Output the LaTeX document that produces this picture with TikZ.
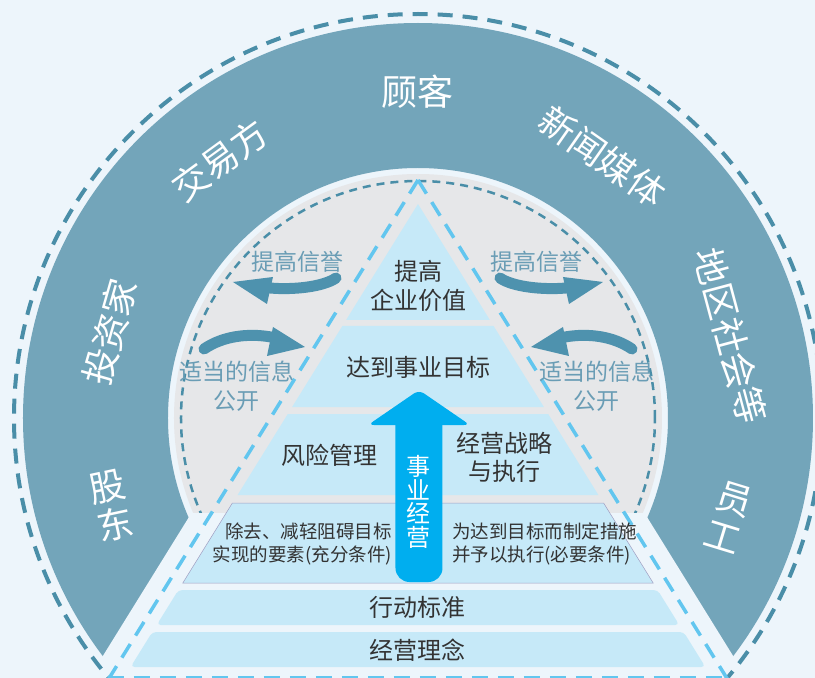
\documentclass[tikz,border=0pt]{standalone}
\usepackage{fontspec}
\setmainfont{Noto Sans CJK SC}
\usepackage{tikz}

\definecolor{bgblue}{HTML}{EDF5FB}
\definecolor{ringblue}{HTML}{73A5BA}
\definecolor{discgray}{HTML}{E6E7E9}
\definecolor{dashblue}{HTML}{4A8EA8}
\definecolor{cyandash}{HTML}{62C6EF}
\definecolor{layerblue}{HTML}{C6E9F8}
\definecolor{arrowblue}{HTML}{00AEEF}
\definecolor{swooshblue}{HTML}{4E92AE}
\definecolor{mutedblue}{HTML}{6A9DB5}
\definecolor{darktext}{HTML}{333333}

\begin{document}
\begin{tikzpicture}[
			x=1pt, y=1pt,
			ringtext/.style={text=white, inner sep=0pt, align=center, font=\fontsize{36}{39}\selectfont},
			layer/.style={fill=layerblue},
			layertext/.style={text=darktext, inner sep=0pt, align=center, font=\fontsize{24}{28.5}\selectfont},
			smalltext/.style={text=darktext, inner sep=0pt, font=\fontsize{18.5}{23}\selectfont},
			graytext/.style={text=mutedblue, inner sep=0pt, align=center, font=\fontsize{23}{29}\selectfont},
			swoosh/.style={draw=swooshblue, line width=11pt, line cap=round},
			swooshhead/.style={fill=swooshblue},
			darkdash/.style={draw=dashblue, line width=4pt, dash pattern=on 15pt off 10pt},
			pyrdash/.style={draw=cyandash, line width=3.5pt, dash pattern=on 16pt off 10pt}
			]
			
			% Background
			\useasboundingbox (-418,-260) rectangle (397,418);
			\fill[bgblue] (-418,-260) rectangle (397,418);
			
			% Outer ring of stakeholders
			\fill[ringblue, even odd rule] (0,0) circle[radius=395] (0,0) circle[radius=250];
			
			% Grey disc, cut off at the lower layers
			\begin{scope}
				\clip (-260,-95) rectangle (260,260);
				\fill[discgray] (0,0) circle[radius=244];
				\draw[dashblue, line width=2.5pt, dash pattern=on 8pt off 6pt] (0,0) circle[radius=237];
			\end{scope}
			
			% Light band along the pyramid
			\fill[bgblue] (-226.5,-95) -- (-335,-270) -- (335,-270) -- (226.5,-95) -- cycle;
			
			% Outer dashed circle
			\draw[darkdash] (0,0) circle[radius=404];
			
			% Pyramid outline
			\coordinate (apex) at (0,238);
			\coordinate (baseL) at (-310,-262);
			\coordinate (baseR) at (310,-262);
			\coordinate (floorL) at (-310,-260);
			\coordinate (floorR) at (310,-260);
			\draw[pyrdash] (apex) -- (baseL);
			\draw[pyrdash] (apex) -- (baseR);
			\draw[pyrdash] (floorL) -- (floorR);
			
			% Layers
			\fill[layer] (0,214) -- (71.9,98) -- (-71.9,98) -- cycle;
			\fill[layer] (-75.6,92) -- (75.6,92) -- (125.9,11) -- (-125.9,11) -- cycle;
			\fill[layer] (-130.2,4) -- (130.2,4) -- (180.4,-77) -- (-180.4,-77) -- cycle;
			\filldraw[layer, draw=black!15!layerblue!80!violet, line width=0.5pt] (-185.6,-85) -- (185.6,-85) -- (235.2,-165) -- (-235.2,-165) -- cycle;
			\fill[layer, rounded corners=4pt] (-239.6,-172) -- (239.6,-172) -- (261.3,-207) -- (-261.3,-207) -- cycle;
			\fill[layer, rounded corners=4pt] (-265.7,-214) -- (265.7,-214) -- (287.4,-249) -- (-287.4,-249) -- cycle;
			
			% Business arrow
			\fill[arrowblue, rounded corners=14pt] (-22.5,-164) rectangle (24.5,10);
			\fill[arrowblue, rounded corners=6pt] (-50,-7) -- (1,28) -- (52,-7) -- cycle;
			
			% Swoosh arrows, left
			\draw[swoosh] (-82,140) .. controls (-95,131) and (-125,128) .. (-148,130);
			\fill[swooshhead] (-185,136) -- (-145,141) -- (-151,114) -- cycle;
			\draw[swoosh] (-214,69) .. controls (-195,82) and (-170,85) .. (-147,81);
			\fill[swooshhead] (-113,71) -- (-145,91) -- (-151,62) -- cycle;
			
			% Swoosh arrows, right
			\draw[swoosh] (82,140) .. controls (95,131) and (125,128) .. (148,130);
			\fill[swooshhead] (185,136) -- (145,141) -- (151,114) -- cycle;
			\draw[swoosh] (214,69) .. controls (195,82) and (170,85) .. (147,81);
			\fill[swooshhead] (113,71) -- (145,91) -- (151,62) -- cycle;
			
			% Stakeholders
			\node[ringtext] (guke) at (90:326) {顾客};
			\node[ringtext, rotate=36] (jiaoyi) at (127.5:325) {交易方};
			\node[ringtext, rotate=-35] (meiti) at (54.8:320) {新闻媒体};
			\node[ringtext, rotate=74] (touzi) at (164.4:320) {投资家};
			\node[ringtext, rotate=-75] (diqu) at (14.7:323) {地区社会等};
			\node[ringtext, rotate=12] (gudong) at (-307,-88) {股\\东};
			\node[ringtext, rotate=-17] (yuangong) at (311,-99) {员\\工};
			
			% Grey area labels
			\node[graytext] (xinyuL) at (-120,156) {提高信誉};
			\node[graytext] (xinyuR) at (119,156) {提高信誉};
			\node[graytext] (gongkaiL) at (-181,31.5) {适当的信息\\公开};
			\node[graytext] (gongkaiR) at (179,31.5) {适当的信息\\公开};
			
			% Layer labels
			\node[layertext] (jiazhi) at (1,132) {提高\\企业价值};
			\node[layertext] (mubiao) at (1,51) {达到事业目标};
			\node[layertext] (fengxian) at (-88,-37) {风险管理};
			\node[layertext] (zhanlue) at (87,-39.5) {经营战略\\与执行};
			\node[smalltext, anchor=east, align=right] (chongfen) at (-26,-125.5) {除去、减轻阻碍目标\\实现的要素(充分条件)};
			\node[smalltext, anchor=west, align=left] (biyao) at (34,-125.5) {为达到目标而制定措施\\并予以执行(必要条件)};
			\node[layertext] (biaozhun) at (0,-189) {行动标准};
			\node[layertext] (linian) at (0,-232) {经营理念};
			
			% Arrow label
			\node[text=white, inner sep=0pt, align=center, font=\fontsize{24}{23.5}\selectfont] (jingying) at (1,-84) {事\\业\\经\\营};
			
		\end{tikzpicture}
\end{document}
